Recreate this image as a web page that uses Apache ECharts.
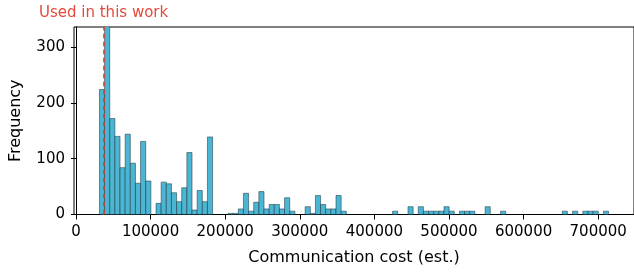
<!DOCTYPE html>
<html>
<head>
<meta charset="utf-8">
<script src="https://cdn.jsdelivr.net/npm/echarts@6/dist/echarts.min.js"></script>
<style>
  html, body { margin: 0; padding: 0; background: #fff; }
  #chart { width: 634px; height: 272px; }
</style>
</head>
<body>
<div id="chart"></div>
<script>
// histogram bins (first edge + width), 99 bins
const binStart = 31470
const binWidth = 6893
const counts = [
  224, 400, 172, 140, 84, 144, 92, 56, 131, 60,
  0, 20, 58, 55, 39, 23, 48, 111, 8, 43,
  23, 139, 0, 0, 0, 2, 2, 10, 38, 6,
  22, 41, 10, 18, 18, 10, 30, 6, 0, 0,
  14, 2, 34, 18, 10, 10, 34, 6, 0, 0,
  0, 0, 0, 0, 0, 0, 0, 6, 0, 0,
  14, 0, 14, 6, 6, 6, 6, 14, 6, 0,
  6, 6, 6, 0, 0, 14, 0, 0, 6, 0,
  0, 0, 0, 0, 0, 0, 0, 0, 0, 0,
  6, 0, 6, 0, 6, 6, 6, 0, 6
]
const usedCost = 37000
const usedLabel = 'Used in this work'
const xTicks = [0, 100000, 200000, 300000, 400000, 500000, 600000, 700000]
const yTicks = [0, 100, 200, 300]

const bins = counts.map((c, i) => [binStart + i * binWidth, binStart + (i + 1) * binWidth, c])

const font = 'DejaVu Sans'
const chart = echarts.init(document.getElementById('chart'), null, { renderer: 'canvas' })

const options = {
  animation: false,
  backgroundColor: '#fff',
  grid: {
    left: 73,
    right: -3,
    top: 27,
    bottom: 57.5,
    show: true,
    borderColor: '#000',
    borderWidth: 1
  },
  xAxis: {
    type: 'value',
    min: -2650,
    max: 748000,
    name: 'Communication cost (est.)',
    nameLocation: 'middle',
    nameGap: 35,
    nameTextStyle: { fontFamily: font, fontSize: 16, color: '#000' },
    splitLine: { show: false },
    axisLine: { show: true, lineStyle: { color: '#000', width: 1 } },
    axisTick: { show: true, length: 5, lineStyle: { color: '#000' }, customValues: xTicks },
    axisLabel: {
      fontFamily: font, fontSize: 15, color: '#000', margin: 10, customValues: xTicks,
      formatter: v => String(v)
    }
  },
  yAxis: {
    type: 'value',
    min: 0,
    max: 336,
    name: 'Frequency',
    nameLocation: 'middle',
    nameGap: 50,
    nameTextStyle: { fontFamily: font, fontSize: 16, color: '#000' },
    splitLine: { show: false },
    axisLine: { show: true, lineStyle: { color: '#000', width: 1 } },
    axisTick: { show: true, length: 5, lineStyle: { color: '#000' }, customValues: yTicks },
    axisLabel: {
      fontFamily: font, fontSize: 15, color: '#000', margin: 9, customValues: yTicks,
      formatter: v => String(v)
    }
  },
  series: [
    {
      type: 'custom',
      clip: true,
      data: bins,
      renderItem: (params, api) => {
        const p0 = api.coord([api.value(0), api.value(2)])
        const p1 = api.coord([api.value(1), 0])
        if (api.value(2) <= 0) return null
        return {
          type: 'rect',
          shape: { x: p0[0], y: p0[1], width: p1[0] - p0[0], height: p1[1] - p0[1] },
          style: { fill: '#4bb6d3', stroke: 'rgba(25,50,60,0.75)', lineWidth: 0.7 }
        }
      },
      markLine: {
        silent: true,
        symbol: 'none',
        lineStyle: { color: '#d9402f', type: [5, 3], width: 1.6 },
        label: {
          show: true,
          position: 'end',
          formatter: usedLabel,
          distance: 6,
          color: '#e24a3b',
          fontFamily: font,
          fontSize: 15
        },
        data: [{ xAxis: usedCost }]
      }
    }
  ]
}
chart.setOption(options)
</script>
</body>
</html>
